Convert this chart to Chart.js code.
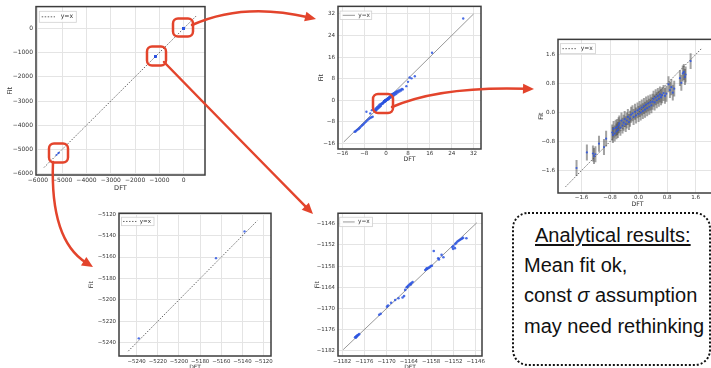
<!DOCTYPE html>
<html>
<head>
<meta charset="utf-8">
<script src="https://cdn.jsdelivr.net/npm/chart.js@4.4.1/dist/chart.umd.min.js"></script>
<style>
  html, body { margin: 0; padding: 0; background: #fff; }
  body { width: 711px; height: 368px; position: relative; overflow: hidden; }
  canvas.panel { position: absolute; }
  #overlay { position: absolute; left: 0; top: 0; }
  .note {
    position: absolute; left: 512px; top: 212px; width: 199px; height: 154px;
    border: 2.5px dotted #111; border-radius: 16px; box-sizing: border-box;
  }
  .txt {
    position: absolute; font-family: "Liberation Sans", Arial, sans-serif;
    font-size: 20px; line-height: 20px; color: #111; white-space: nowrap;
  }
</style>
</head>
<body>
<div class="note"></div>
<div class="txt" style="left:535px; top:225px; text-decoration: underline; text-decoration-thickness: 1.5px; text-underline-offset: 2px;">Analytical results:</div>
<div class="txt" style="left:524px; top:255px;">Mean fit ok,</div>
<div class="txt" style="left:524px; top:285px;">const <i>σ</i> assumption</div>
<div class="txt" style="left:524px; top:316px;">may need rethinking</div>
<canvas id="overlay" width="711" height="368"></canvas>

<script>
// tick values per panel
const p1Ticks = [-6000, -5000, -4000, -3000, -2000, -1000, 0];
const p2Ticks = [-16, -8, 0, 8, 16, 24, 32];
const p3Ticks = [-1.6, -0.8, 0, 0.8, 1.6];
const p4Ticks = [-5240, -5220, -5200, -5180, -5160, -5140, -5120];
const p5Ticks = [-1182, -1176, -1170, -1164, -1158, -1152, -1146];

// y=x reference line ends
const p1Line = [-5750, 530];
const p2Line = [-15.5, 32];
const p3Line = [-2.05, 1.77];
const p4Line = [-5248, -5126];
const p5Line = [-1181.7, -1145.7];

// [DFT, Fit] pairs, zoom around 0 (with error bars)
const p3Points = [
  [-1.74, -1.53], [-1.45, -1.10], [-1.28, -1.13], [-1.25, -1.20], [-1.21, -1.15],
  [-1.11, -0.86], [-0.97, -0.95], [-0.91, -0.72],
  [-0.74, -0.55], [-0.72, -0.62], [-0.70, -0.45], [-0.67, -0.58], [-0.64, -0.42],
  [-0.62, -0.52], [-0.60, -0.40], [-0.58, -0.48], [-0.56, -0.35],
  [-0.54, -0.30], [-0.51, -0.42], [-0.48, -0.22], [-0.45, -0.36], [-0.42, -0.28],
  [-0.39, -0.18], [-0.36, -0.32], [-0.33, -0.22], [-0.30, -0.12], [-0.27, -0.26],
  [-0.24, -0.17], [-0.21, -0.06],
  [-0.17, -0.02], [-0.14, -0.12], [-0.10, 0.02], [-0.07, -0.08], [-0.03, 0.06],
  [0.00, -0.04], [0.03, 0.10], [0.06, 0.00], [0.09, 0.14], [0.12, 0.04], [0.15, 0.18],
  [0.18, 0.08], [0.21, 0.22], [0.24, 0.12], [0.27, 0.25], [0.30, 0.16], [0.33, 0.28],
  [0.36, 0.20],
  [0.39, 0.30], [0.42, 0.38], [0.45, 0.28], [0.48, 0.42], [0.51, 0.34], [0.54, 0.46],
  [0.57, 0.38], [0.60, 0.50], [0.63, 0.42], [0.66, 0.48], [0.70, 0.54], [0.74, 0.46],
  [0.78, 0.52],
  [0.84, 0.78], [0.88, 0.62], [0.92, 0.70], [0.96, 0.55], [1.00, 0.66],
  [1.16, 0.95], [1.20, 0.82], [1.24, 1.08], [1.27, 1.12], [1.30, 0.98], [1.32, 1.05],
  [1.46, 1.42]
];
const p3Sigma = 0.22;

// remaining points of the small-energy set (outside the zoom)
const p2Extra = [
  [-4.1, -3.7], [-3.9, -3.2], [-3.8, -4.0], [-3.6, -3.1], [-3.5, -3.6], [-3.3, -2.6],
  [-3.1, -3.2], [-3.0, -2.4], [-2.8, -2.9], [-2.7, -2.0], [-2.5, -2.6], [-2.4, -1.7],
  [-2.2, -2.3], [-2.0, -1.4], [-1.9, -2.1],
  [1.7, 1.9], [1.9, 1.1], [2.1, 2.2], [2.2, 1.4], [2.4, 2.3], [2.6, 1.6], [2.8, 2.6],
  [3.0, 1.9], [3.2, 2.8], [3.4, 2.2], [3.6, 3.1], [3.8, 2.5], [4.0, 3.3], [4.3, 2.9],
  [4.6, 3.6], [4.9, 3.2], [5.2, 3.9], [5.5, 3.6], [5.8, 4.2], [6.1, 4.0],
  [7.4, 5.2], [8.0, 6.8], [8.6, 8.4], [9.3, 8.1], [10.5, 8.9], [16.8, 17.6], [28.2, 30.3],
  [-7.2, -4.3], [-5.8, -4.9], [-5.2, -3.7],
  [-11.5, -11.7], [-11.2, -11.6], [-10.9, -11.3], [-10.6, -11.0], [-10.2, -10.8],
  [-9.9, -10.5], [-9.6, -10.2], [-9.2, -9.8], [-8.8, -9.4], [-8.5, -9.1], [-8.1, -8.7],
  [-7.7, -8.3], [-7.3, -7.9], [-6.9, -7.5], [-6.5, -7.1], [-6.1, -6.8], [-5.7, -6.5],
  [-5.3, -6.3], [-4.9, -6.1]
];

// around -5200
const p4Points = [[-5238, -5236], [-5165, -5161], [-5138, -5136]];

// around -1160
const p5Points = [
  [-1178.5, -1178.2], [-1178.3, -1178.3], [-1178.2, -1177.9], [-1178.0, -1178.0],
  [-1177.9, -1177.7], [-1177.8, -1177.6], [-1177.6, -1177.5], [-1177.4, -1177.3],
  [-1172.0, -1171.8], [-1171.6, -1171.5], [-1169.9, -1169.5], [-1169.6, -1169.2],
  [-1168.8, -1168.4], [-1167.7, -1167.6], [-1166.8, -1167.1], [-1165.7, -1166.9],
  [-1165.3, -1166.5], [-1165.0, -1164.75],
  [-1164.6, -1164.0], [-1164.4, -1163.9], [-1164.2, -1163.6], [-1163.9, -1163.3],
  [-1163.6, -1163.0], [-1163.3, -1162.8], [-1163.0, -1162.5], [-1163.5, -1163.2],
  [-1159.6, -1159.1], [-1159.3, -1158.9], [-1159.2, -1158.6], [-1159.0, -1158.7],
  [-1158.7, -1158.5], [-1158.4, -1158.3], [-1158.1, -1158.0], [-1157.8, -1157.9],
  [-1157.3, -1153.7],
  [-1156.1, -1155.75], [-1155.9, -1156.1], [-1155.2, -1154.8], [-1154.7, -1155.5],
  [-1152.3, -1152.6], [-1152.1, -1153.1], [-1152.0, -1152.3], [-1151.6, -1152.9],
  [-1151.5, -1151.7], [-1151.2, -1151.4], [-1150.9, -1151.0], [-1150.6, -1150.8],
  [-1150.3, -1150.6], [-1150.0, -1150.4], [-1149.7, -1150.2], [-1149.4, -1150.0],
  [-1148.5, -1150.1]
];

const p2Points = p3Points.concat(p2Extra);
const p1Points = p2Points.concat(p4Points, p5Points);

const toXY = pts => pts.map(([x, y]) => ({x, y}));

// box around plot area
const framePlugin = {
  id: 'frame',
  afterDraw(chart) {
    const {ctx, chartArea: a} = chart;
    ctx.save();
    ctx.strokeStyle = '#3c3c3c';
    ctx.lineWidth = 1.5;
    ctx.strokeRect(a.left, a.top, a.right - a.left, a.bottom - a.top);
    ctx.restore();
  }
};

// matplotlib style legend inside the axes
const insetLegend = {
  id: 'insetLegend',
  afterDraw(chart, args, o) {
    if (!o.w) return;
    const {ctx, chartArea: a} = chart;
    const ds = chart.data.datasets[0];
    const x = a.left + o.dx, y = a.top + o.dy, cy = y + o.h / 2;
    ctx.save();
    ctx.fillStyle = 'rgba(255,255,255,0.85)';
    ctx.strokeStyle = '#d0d0d0';
    ctx.lineWidth = 0.8;
    ctx.fillRect(x, y, o.w, o.h);
    ctx.strokeRect(x, y, o.w, o.h);
    ctx.strokeStyle = ds.borderColor;
    ctx.lineWidth = ds.borderWidth;
    ctx.setLineDash(ds.borderDash || []);
    ctx.beginPath();
    ctx.moveTo(x + o.l0, cy);
    ctx.lineTo(x + o.l1, cy);
    ctx.stroke();
    ctx.setLineDash([]);
    ctx.fillStyle = '#333';
    ctx.font = o.fs + 'px "DejaVu Sans"';
    ctx.textBaseline = 'middle';
    ctx.fillText(ds.label, x + o.tx, cy);
    ctx.restore();
  }
};

// constant sigma error bars
const errorBars = {
  id: 'errorBars',
  beforeDatasetsDraw(chart, args, o) {
    if (!o.sigma) return;
    const {ctx, chartArea: a, scales: {x, y}} = chart;
    ctx.save();
    ctx.beginPath();
    ctx.rect(a.left, a.top, a.right - a.left, a.bottom - a.top);
    ctx.clip();
    ctx.strokeStyle = 'rgba(70,70,70,0.5)';
    ctx.lineWidth = 2;
    chart.data.datasets[1].data.forEach(p => {
      const px = x.getPixelForValue(p.x);
      ctx.beginPath();
      ctx.moveTo(px, y.getPixelForValue(p.y - o.sigma));
      ctx.lineTo(px, y.getPixelForValue(p.y + o.sigma));
      ctx.stroke();
    });
    ctx.restore();
  }
};

const dotted = {color: '#555', dash: [1.5, 1.5]};
const solid = {color: '#8c8c8c', dash: []};

const panels = [
  {frame: [36, 6, 205, 175], yw: 36, xh: 17, pt: 6, pr: 8, xr: [-6080, 880], yr: [-6060, 905],
   ticks: p1Ticks, dec: 0, fs: 6, tp: 2, ytp: 6, line: p1Line, style: dotted,
   points: p1Points, radius: 1.0,
   legend: {dx: 3.3, dy: 4.7, w: 37, h: 11, l0: 2.4, l1: 15.7, tx: 21.4, fs: 6.2}},
  {frame: [338, 6, 481, 149], yw: 24, xh: 14, pt: 6, pr: 8, xr: [-17.6, 34.7], yr: [-18.1, 34.8],
   ticks: p2Ticks, dec: 0, fs: 5.6, tp: 1, ytp: 4, line: p2Line, style: solid,
   points: p2Points, radius: 1.2,
   legend: {dx: 2, dy: 4.7, w: 31.7, h: 8.5, l0: 2.7, l1: 15, tx: 18.3, fs: 5.8}},
  {frame: [558, 39, 721, 193], yw: 24, xh: 15, pt: 6, pr: 0, xr: [-2.26, 2.2], yr: [-2.22, 2.02],
   ticks: p3Ticks, dec: 1, fs: 5.6, tp: 1.5, ytp: 4, line: p3Line, style: dotted,
   points: p3Points, radius: 1.1, sigma: p3Sigma,
   legend: {dx: 2.4, dy: 4.3, w: 35, h: 10, l0: 2, l1: 16, tx: 20.3, fs: 6}},
  {frame: [119, 213, 271, 356], yw: 32, xh: 15, pt: 6, pr: 8, xr: [-5256.7, -5113], yr: [-5252.5, -5119],
   ticks: p4Ticks, dec: 0, fs: 5.4, tp: 2.5, ytp: 1, line: p4Line, style: dotted,
   points: p4Points, radius: 1.2,
   legend: {dx: 2.4, dy: 4, w: 32.6, h: 8.4, l0: 1.6, l1: 15, tx: 18.3, fs: 5.6}},
  {frame: [338, 213, 482, 356], yw: 24, xh: 15, pt: 6, pr: 8, xr: [-1183.1, -1144.3], yr: [-1183.5, -1143],
   ticks: p5Ticks, dec: 0, fs: 5.4, tp: 2.5, ytp: 0, line: p5Line, style: solid,
   points: p5Points, radius: 1.3,
   legend: {dx: 1.7, dy: 4, w: 32.7, h: 9.4, l0: 3.3, l1: 15, tx: 18.3, fs: 5.8}}
];

function buildPanel(p) {
  const [l, t, r, b] = p.frame;
  const w = r - l + p.yw + p.pr;
  const h = b - t + p.pt + p.xh;
  const canvas = document.createElement('canvas');
  canvas.className = 'panel';
  canvas.width = w;
  canvas.height = h;
  canvas.style.left = (l - p.yw) + 'px';
  canvas.style.top = (t - p.pt) + 'px';
  canvas.style.width = w + 'px';
  canvas.style.height = h + 'px';
  document.body.insertBefore(canvas, document.getElementById('overlay'));

  const font = {family: 'DejaVu Sans', size: p.fs};
  const fmt = v => (Math.abs(v) < 1e-9 ? 0 : v).toFixed(p.dec).replace('-', '\u2212');
  const tickList = s => { s.ticks = p.ticks.map(v => ({value: v})); };
  const grid = {color: '#e4e4e4', lineWidth: 1, drawTicks: false};

  return new Chart(canvas, {
    type: 'scatter',
    data: {
      datasets: [
        {
          label: 'y=x',
          data: toXY([[p.line[0], p.line[0]], [p.line[1], p.line[1]]]),
          showLine: true,
          borderColor: p.style.color,
          borderDash: p.style.dash,
          borderWidth: 0.9,
          pointRadius: 0,
          order: 1
        },
        {
          label: 'data',
          data: toXY(p.points),
          pointRadius: p.radius,
          backgroundColor: 'rgba(45,85,225,0.85)',
          borderWidth: 0,
          order: 0
        }
      ]
    },
    options: {
      responsive: false,
      animation: false,
      devicePixelRatio: 1,
      layout: {padding: {left: 0, top: p.pt, right: p.pr, bottom: 0}},
      scales: {
        x: {
          type: 'linear', position: 'bottom', min: p.xr[0], max: p.xr[1],
          afterBuildTicks: tickList,
          afterFit: s => { s.height = p.xh; },
          grid, border: {display: false},
          ticks: {font, color: '#333', padding: p.tp, autoSkip: false, maxRotation: 0, minRotation: 0, callback: fmt},
          title: {display: true, text: 'DFT', font: {family: 'DejaVu Sans', size: p.fs + 0.6}, color: '#333', padding: 0}
        },
        y: {
          type: 'linear', position: 'left', min: p.yr[0], max: p.yr[1],
          afterBuildTicks: tickList,
          afterFit: s => { s.width = p.yw; },
          grid, border: {display: false},
          ticks: {font, color: '#333', padding: 3, autoSkip: false, callback: fmt},
          title: {display: true, text: 'Fit', font: {family: 'DejaVu Sans', size: p.fs + 0.6}, color: '#333', padding: {top: p.ytp, bottom: 0}}
        }
      },
      plugins: {
        legend: {display: false},
        tooltip: {enabled: false},
        insetLegend: p.legend,
        errorBars: {sigma: p.sigma || 0}
      }
    },
    plugins: [errorBars, framePlugin, insetLegend]
  });
}

panels.forEach(buildPanel);

// red zoom boxes and arrows
const ov = document.getElementById('overlay').getContext('2d');
const red = '#e3442c';
ov.strokeStyle = red;
ov.fillStyle = red;
ov.lineWidth = 2.5;
ov.lineCap = 'round';

function roundBox(x, y, w, h, r) {
  ov.beginPath();
  ov.moveTo(x + r, y);
  ov.arcTo(x + w, y, x + w, y + h, r);
  ov.arcTo(x + w, y + h, x, y + h, r);
  ov.arcTo(x, y + h, x, y, r);
  ov.arcTo(x, y, x + w, y, r);
  ov.closePath();
  ov.stroke();
}

function arrow(p0, c, tip) {
  const ang = Math.atan2(tip[1] - c[1], tip[0] - c[0]);
  const cs = Math.cos(ang), sn = Math.sin(ang);
  const L = 11, W = 5;
  ov.beginPath();
  ov.moveTo(p0[0], p0[1]);
  ov.quadraticCurveTo(c[0], c[1], tip[0] - 8 * cs, tip[1] - 8 * sn);
  ov.stroke();
  ov.beginPath();
  ov.moveTo(tip[0], tip[1]);
  ov.lineTo(tip[0] - L * cs + W * sn, tip[1] - L * sn - W * cs);
  ov.lineTo(tip[0] - L * cs - W * sn, tip[1] - L * sn + W * cs);
  ov.closePath();
  ov.fill();
}

roundBox(173, 18.5, 20, 18, 5);
roundBox(147, 46.5, 19, 19, 5);
roundBox(49, 143.5, 19, 19, 5);
roundBox(373, 94, 20, 19, 5);

arrow([192, 25], [243, 2], [316, 19]);
arrow([164, 62], [238, 138], [313, 214]);
arrow([53, 162], [50, 240], [93, 267]);
arrow([392, 107], [440, 86], [534, 89]);
</script>
</body>
</html>
